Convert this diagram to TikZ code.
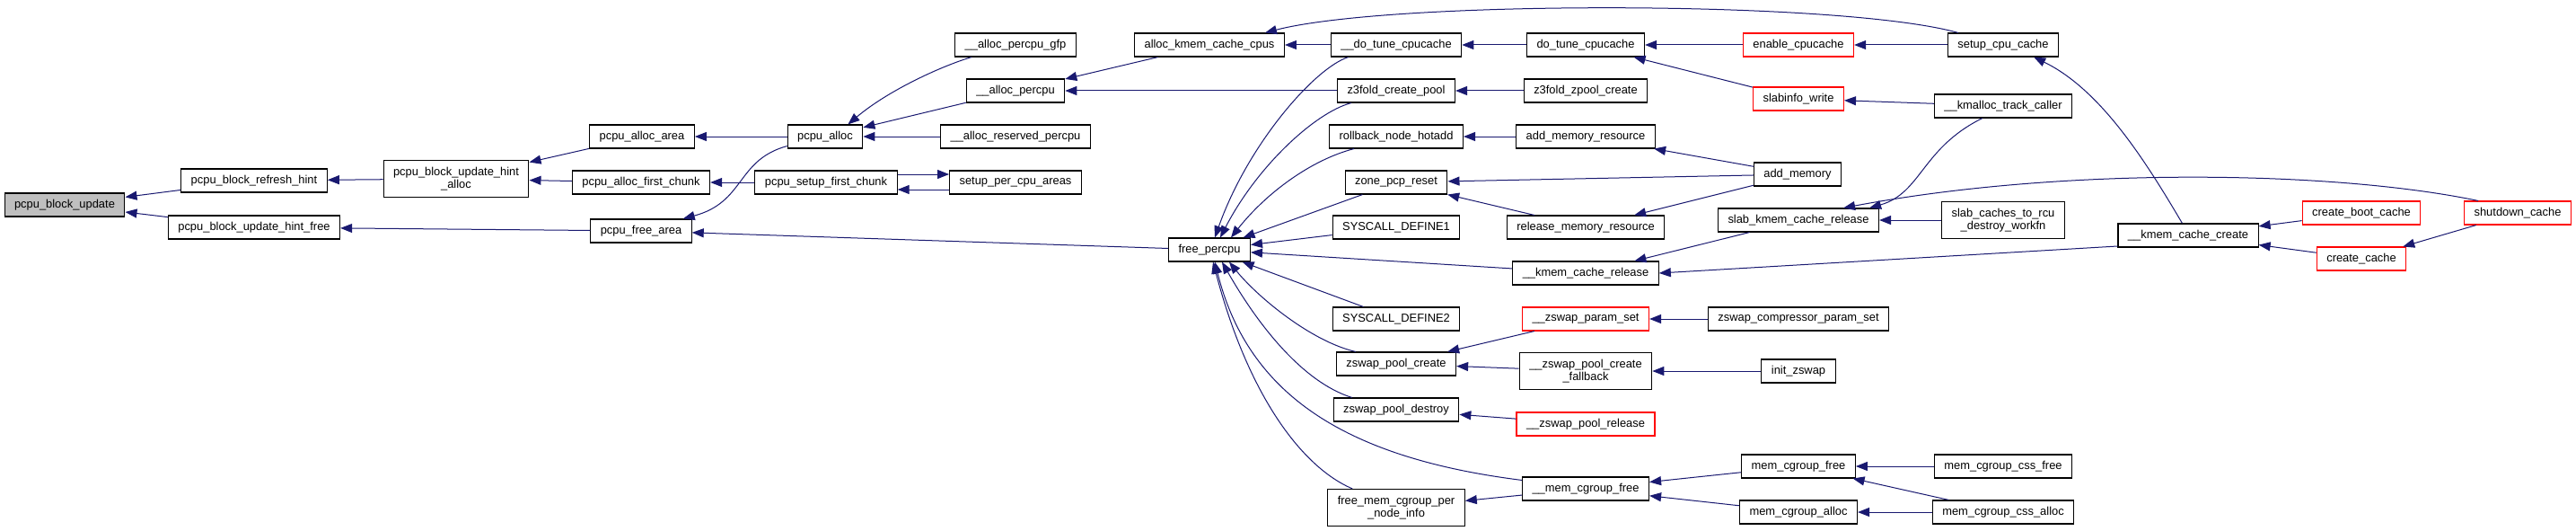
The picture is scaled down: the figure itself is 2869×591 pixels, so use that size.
\documentclass[tikz,border=0pt]{standalone}
\usepackage{fontspec}
\setmainfont{Liberation Sans}
\usepackage{tikz}
\usetikzlibrary{arrows.meta,calc}
\definecolor{edgeblue}{HTML}{191970}
\definecolor{rootgray}{HTML}{BFBFBF}
\newcommand{\fnfont}{\fontsize{12.9pt}{13.4pt}\selectfont}

\begin{document}
\begin{tikzpicture}[
    x=1pt, y=-1pt,
    fn/.style={draw=black, line width=1.1pt, fill=white, inner xsep=11pt, inner ysep=0pt, minimum height=26pt, align=center, font=\fnfont},
    fnred/.style={fn, draw=red},
    fnroot/.style={fn, fill=rootgray},
    fntwo/.style={fn, minimum height=41pt},
    arr/.style={-{Triangle[length=13pt, width=10pt]}, edgeblue, line width=1pt}
]
\useasboundingbox (0,0) rectangle (2869,591);

\node[fnroot] (update) at (72,228) {pcpu\_block\_update};
\node[fn] (refresh) at (283,201) {pcpu\_block\_refresh\_hint};
\node[fn] (hintfree) at (283,253) {pcpu\_block\_update\_hint\_free};
\node[fntwo] (hintalloc) at (508,199) {pcpu\_block\_update\_hint\\\_alloc};
\node[fn] (allocarea) at (715,152) {pcpu\_alloc\_area};
\node[fn] (firstchunk) at (714,203) {pcpu\_alloc\_first\_chunk};
\node[fn] (freearea) at (714,257) {pcpu\_free\_area};
\node[fn] (palloc) at (919,152) {pcpu\_alloc};
\node[fn] (setupfirst) at (920,203) {pcpu\_setup\_first\_chunk};
\node[fn] (percpugfp) at (1131,50) {\_\_alloc\_percpu\_gfp};
\node[fn] (allocpercpu) at (1131,101) {\_\_alloc\_percpu};
\node[fn] (reserved) at (1131,152) {\_\_alloc\_reserved\_percpu};
\node[fn] (setupareas) at (1131,203) {setup\_per\_cpu\_areas};
\node[fn] (kmemcpus) at (1347,50) {alloc\_kmem\_cache\_cpus};
\node[fn] (freepercpu) at (1347,278) {free\_percpu};
\node[fn] (dotune) at (1555,50) {\_\_do\_tune\_cpucache};
\node[fn] (zcreatepool) at (1555,101) {z3fold\_create\_pool};
\node[fn] (rollback) at (1555,152) {rollback\_node\_hotadd};
\node[fn] (zonereset) at (1555,203) {zone\_pcp\_reset};
\node[fn] (sysone) at (1555,253) {SYSCALL\_DEFINE1};
\node[fn] (systwo) at (1555,355) {SYSCALL\_DEFINE2};
\node[fn] (zpoolcreate) at (1555,405) {zswap\_pool\_create};
\node[fn] (zpooldestroy) at (1555,456) {zswap\_pool\_destroy};
\node[fntwo] (freecgnode) at (1555,565) {free\_mem\_cgroup\_per\\\_node\_info};
\node[fn] (tunecpu) at (1766,50) {do\_tune\_cpucache};
\node[fn] (zpoolz3) at (1766,101) {z3fold\_zpool\_create};
\node[fn] (addmemres) at (1766,152) {add\_memory\_resource};
\node[fn] (relmemres) at (1766,253) {release\_memory\_resource};
\node[fn] (kmrelease) at (1766,304) {\_\_kmem\_cache\_release};
\node[fnred] (paramset) at (1766,355) {\_\_zswap\_param\_set};
\node[fntwo] (fallback) at (1766,413) {\_\_zswap\_pool\_create\\\_fallback};
\node[fnred] (poolrelease) at (1766,472) {\_\_zswap\_pool\_release};
\node[fn] (cgfreeinner) at (1766,544) {\_\_mem\_cgroup\_free};
\node[fnred] (enablecpu) at (2003,50) {enable\_cpucache};
\node[fnred] (slabinfo) at (2003,110) {slabinfo\_write};
\node[fn] (addmemory) at (2002,194) {add\_memory};
\node[fn] (slabkmem) at (2003,245) {slab\_kmem\_cache\_release};
\node[fn] (compparam) at (2003,355) {zswap\_compressor\_param\_set};
\node[fn] (initzswap) at (2003,413) {init\_zswap};
\node[fn] (cgfree) at (2003,519) {mem\_cgroup\_free};
\node[fn] (cgalloc) at (2003,570) {mem\_cgroup\_alloc};
\node[fn] (setupcpu) at (2231,50) {setup\_cpu\_cache};
\node[fn] (kmalloc) at (2231,118) {\_\_kmalloc\_track\_caller};
\node[fntwo] (rcuworkfn) at (2231,245) {slab\_caches\_to\_rcu\\\_destroy\_workfn};
\node[fn] (cssfree) at (2231,519) {mem\_cgroup\_css\_free};
\node[fn] (cssalloc) at (2231,570) {mem\_cgroup\_css\_alloc};
\node[fn] (kmcreate) at (2437,262) {\_\_kmem\_cache\_create};
\node[fnred] (createboot) at (2630,237) {create\_boot\_cache};
\node[fnred] (createcache) at (2630,288) {create\_cache};
\node[fnred] (shutdown) at (2804,237) {shutdown\_cache};

\draw[arr] (refresh) -- (update);
\draw[arr] (hintfree) -- (update);
\draw[arr] (hintalloc) -- (refresh);
\draw[arr] (freearea) -- (hintfree);
\draw[arr] (allocarea) -- (hintalloc);
\draw[arr] (firstchunk) -- (hintalloc);
\draw[arr] (palloc) -- (allocarea);
\draw[arr] ($(palloc.south west)+(0,-3)$) .. controls (820,178) and (830,225) .. ($(freearea.north east)+(-10,0)$);
\draw[arr] (freepercpu) -- (freearea);
\draw[arr] (setupfirst) -- (firstchunk);
\draw[arr] ($(setupfirst.east)+(0,-9)$) -- ($(setupareas.west)+(0,-9)$);
\draw[arr] ($(setupareas.west)+(0,8)$) -- ($(setupfirst.east)+(0,8)$);
\draw[arr] ($(percpugfp.south west)+(19,0)$) .. controls (1050,73) and (990,100) .. ($(palloc.north east)+(-17,0)$);
\draw[arr] (allocpercpu) -- (palloc);
\draw[arr] (reserved) -- (palloc);
\draw[arr] (kmemcpus) -- (allocpercpu);
\draw[arr] (zcreatepool) -- (allocpercpu);
\draw[arr] (dotune) -- (kmemcpus);
\draw[arr] ($(setupcpu.north west)+(12,0)$) .. controls (2050,0) and (1550,0) .. ($(kmemcpus.north east)+(-22,0)$);
\draw[arr] ($(dotune.south west)+(20,0)$) .. controls (1465,75) and (1390,160) .. ($(freepercpu.north)+(6,0)$);
\draw[arr] ($(zcreatepool.south west)+(16,0)$) .. controls (1465,125) and (1400,185) .. ($(freepercpu.north)+(12,0)$);
\draw[arr] ($(rollback.south west)+(28,0)$) .. controls (1460,178) and (1410,215) .. ($(freepercpu.north)+(24,0)$);
\draw[arr] (zonereset) -- (freepercpu);
\draw[arr] (sysone) -- (freepercpu);
\draw[arr] (kmrelease) -- (freepercpu);
\draw[arr] (systwo) -- (freepercpu);
\draw[arr] ($(zpoolcreate.north west)+(22,0)$) .. controls (1460,380) and (1400,330) .. ($(freepercpu.south)+(22,0)$);
\draw[arr] ($(zpooldestroy.north west)+(21,0)$) .. controls (1450,425) and (1400,360) .. ($(freepercpu.south)+(14,0)$);
\draw[arr] ($(cgfreeinner.north west)+(0,4)$) .. controls (1500,510) and (1390,440) .. ($(freepercpu.south)+(6,0)$);
\draw[arr] ($(freecgnode.north west)+(28,0)$) .. controls (1450,520) and (1390,440) .. ($(freepercpu.south)+(4,0)$);
\draw[arr] (tunecpu) -- (dotune);
\draw[arr] (enablecpu) -- (tunecpu);
\draw[arr] (slabinfo) -- (tunecpu);
\draw[arr] (setupcpu) -- (enablecpu);
\draw[arr] (kmalloc) -- (slabinfo);
\draw[arr] (zpoolz3) -- (zcreatepool);
\draw[arr] (addmemres) -- (rollback);
\draw[arr] (addmemory) -- (addmemres);
\draw[arr] (addmemory) -- (zonereset);
\draw[arr] (relmemres) -- (zonereset);
\draw[arr] (addmemory) -- (relmemres);
\draw[arr] (slabkmem) -- (kmrelease);
\draw[arr] ($(kmcreate.west)+(0,12)$) -- (kmrelease.east);
\draw[arr] ($(kmalloc.south west)+(54,0)$) .. controls (2140,165) and (2140,215) .. ($(slabkmem.north east)+(-11,0)$);
\draw[arr] ($(shutdown.north west)+(16,0)$) .. controls (2600,190) and (2300,185) .. ($(slabkmem.north east)+(-40,0)$);
\draw[arr] (rcuworkfn) -- (slabkmem);
\draw[arr] ($(kmcreate.north west)+(72,0)$) .. controls (2390,180) and (2340,100) .. ($(setupcpu.south east)+(-28,0)$);
\draw[arr] (createboot) -- (kmcreate);
\draw[arr] (createcache) -- (kmcreate);
\draw[arr] (shutdown) -- (createcache);
\draw[arr] (paramset) -- (zpoolcreate);
\draw[arr] (fallback) -- (zpoolcreate);
\draw[arr] (compparam) -- (paramset);
\draw[arr] (initzswap) -- (fallback);
\draw[arr] (poolrelease) -- (zpooldestroy);
\draw[arr] (cgfreeinner) -- (freecgnode);
\draw[arr] (cgfree) -- (cgfreeinner);
\draw[arr] (cgalloc) -- (cgfreeinner);
\draw[arr] (cssfree) -- (cgfree);
\draw[arr] (cssalloc) -- (cgfree);
\draw[arr] (cssalloc) -- (cgalloc);
\end{tikzpicture}
\end{document}
